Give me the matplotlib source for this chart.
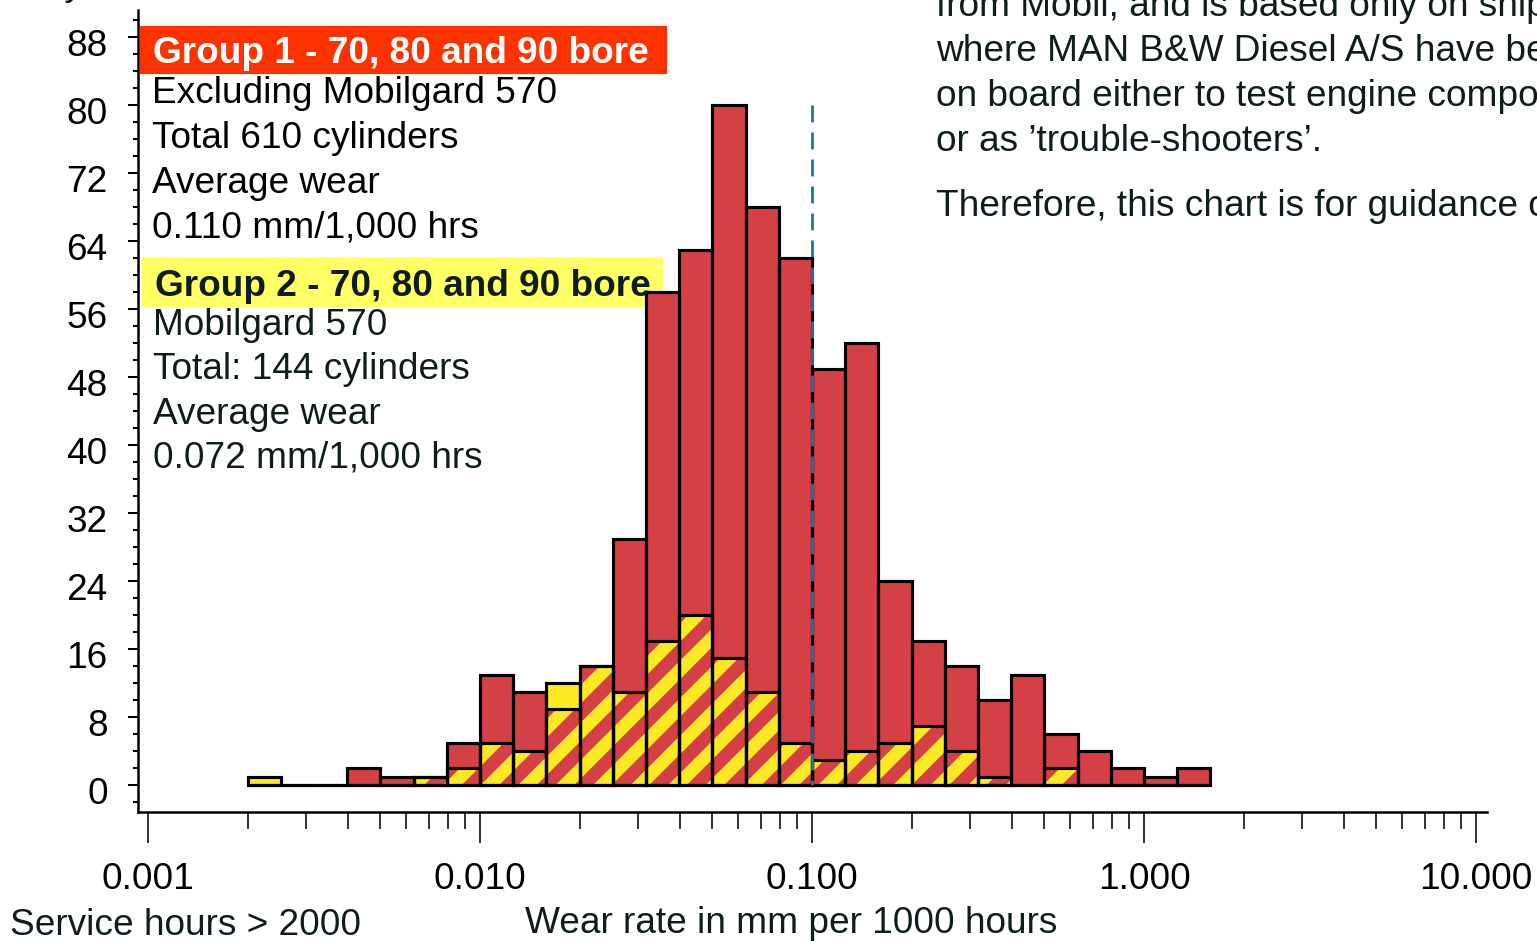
import numpy as np
import matplotlib
matplotlib.use("Agg")
import matplotlib.pyplot as plt
from matplotlib.patches import Rectangle
from matplotlib.ticker import LogLocator, MultipleLocator, NullFormatter
from matplotlib.transforms import ScaledTranslation

# Histogram bins: 10 bins per decade, bin k spans 10**(-3 + k/10) .. 10**(-3 + (k+1)/10)
bin_index = list(range(3, 32))
group1_counts = [0, 0, 0, 2, 1, 1, 5, 13, 11, 9, 14, 29, 58, 63, 80,
                 68, 62, 49, 52, 24, 17, 14, 10, 13, 6, 4, 2, 1, 2]
group2_counts = [1, 0, 0, 0, 0, 1, 2, 5, 4, 12, 14, 11, 17, 20, 15,
                 11, 5, 3, 4, 5, 7, 4, 1, 0, 2, 0, 0, 0, 0]

xtick_values = [0.001, 0.01, 0.1, 1, 10]
xtick_labels = ["0.001", "0.010", "0.100", "1.000", "10.000"]
ytick_values = list(range(0, 89, 8))
guide_x = 0.1
guide_top = 80

group1_lines = ["Excluding Mobilgard 570", "Total 610 cylinders",
                "Average wear", "0.110 mm/1,000 hrs"]
group2_lines = ["Mobilgard 570", "Total: 144 cylinders",
                "Average wear", "0.072 mm/1,000 hrs"]
note_lines = ["from Mobil, and is based only on ships",
              "where MAN B&W Diesel A/S have been",
              "on board either to test engine components",
              "or as \u2019trouble-shooters\u2019."]
note_last = "Therefore, this chart is for guidance only."

RED = "#D44046"
YELLOW = "#FBE926"
TXT = "#0f1d1d"

W, H, DPI = 1537, 941, 225
FS = 11.85

plt.rcParams["font.family"] = ["Liberation Sans", "DejaVu Sans"]
plt.rcParams["hatch.linewidth"] = 4.2


def fx(px):
    return px / W


def fy(py):
    return 1 - py / H


fig = plt.figure(figsize=(W / DPI, H / DPI), dpi=DPI)
ax = fig.add_axes([fx(138), fy(812), (1487 - 138) / W, (812 - 10) / H])

k = np.array(bin_index)
left = 10.0 ** (-3 + k / 10)
width = 10.0 ** (-3 + (k + 1) / 10) - left
g1 = np.array(group1_counts)
g2 = np.array(group2_counts)
both = np.minimum(g1, g2)

# fills: yellow, red, then the overlap striped
ax.bar(left, g2, width=width, align="edge", color=YELLOW, linewidth=0, zorder=2)
ax.bar(left, g1, width=width, align="edge", color=RED, linewidth=0, zorder=3)
ax.bar(left, both, width=width, align="edge", color=RED, hatch="//",
       edgecolor=YELLOW, linewidth=0, zorder=4)
# outlines
ax.bar(left, g2, width=width, align="edge", fill=False, edgecolor="black",
       linewidth=1.0, zorder=5)
ax.bar(left, g1, width=width, align="edge", fill=False, edgecolor="black",
       linewidth=1.0, zorder=5)

# dashed guide at 0.1 mm
ax.plot([guide_x, guide_x], [guide_top, 0], color="#1478b5",
        lw=0.9, ls=(0, (6.0, 3.6)), zorder=6)

ax.set_xscale("log")
ax.set_xlim(10 ** -3.0301, 10 ** 1.0331)
ax.set_ylim(-27 / 8.5, 775 / 8.5)

ax.set_xticks(xtick_values)
ax.set_xticklabels(xtick_labels)
ax.xaxis.set_minor_locator(LogLocator(base=10, subs=np.arange(2, 10)))
ax.xaxis.set_minor_formatter(NullFormatter())
ax.set_yticks(ytick_values)
ax.yaxis.set_minor_locator(MultipleLocator(2))

for s in ["top", "right"]:
    ax.spines[s].set_visible(False)
for s in ["left", "bottom"]:
    ax.spines[s].set_linewidth(0.8)

ax.tick_params(axis="y", which="major", length=3.2, width=0.65, pad=6.5,
               labelsize=FS, colors="black")
ax.tick_params(axis="y", which="minor", length=1.6, width=0.65)
ax.tick_params(axis="x", which="major", length=9.9, width=0.5, pad=6,
               labelsize=FS, colors="black")
ax.tick_params(axis="x", which="minor", length=5.4, width=0.5)

# y labels sit a little below their ticks in the original
shift = ScaledTranslation(0, -6 / DPI, fig.dpi_scale_trans)
for lab in ax.get_yticklabels():
    lab.set_transform(lab.get_transform() + shift)

# group boxes behind the bars
ax.add_patch(Rectangle((fx(141), fy(72)), fx(665) - fx(141), (72 - 27) / H,
                       transform=fig.transFigure, color="#FF3300", zorder=1))
ax.add_patch(Rectangle((fx(143), fy(305)), fx(661) - fx(143), (305 - 258) / H,
                       transform=fig.transFigure, color="#FFFF66", zorder=1))

fig.text(fx(153), fy(63), "Group 1 - 70, 80 and 90 bore", color="white",
         fontsize=FS, weight="bold", va="baseline")
for i, line in enumerate(group1_lines):
    fig.text(fx(152), fy(103 + 45 * i), line, color="black", fontsize=FS,
             va="baseline")

fig.text(fx(155), fy(296), "Group 2 - 70, 80 and 90 bore", color=TXT,
         fontsize=FS, weight="bold", va="baseline")
for i, line in enumerate(group2_lines):
    fig.text(fx(153), fy(335 + 44.3 * i), line, color=TXT, fontsize=FS,
             va="baseline")

for i, line in enumerate(note_lines):
    fig.text(fx(936), fy(16 + 45 * i), line, color=TXT, fontsize=FS,
             va="baseline")
fig.text(fx(936), fy(216), note_last, color=TXT, fontsize=FS, va="baseline")

fig.text(fx(83), fy(-5), "Frequency", color=TXT, fontsize=FS,
         ha="right", va="baseline")
fig.text(fx(10), fy(935), "Service hours > 2000", color=TXT, fontsize=FS,
         va="baseline")
fig.text(fx(791), fy(933), "Wear rate in mm per 1000 hours", color=TXT,
         fontsize=FS, ha="center", va="baseline")

fig.savefig("out.png", dpi=DPI)
